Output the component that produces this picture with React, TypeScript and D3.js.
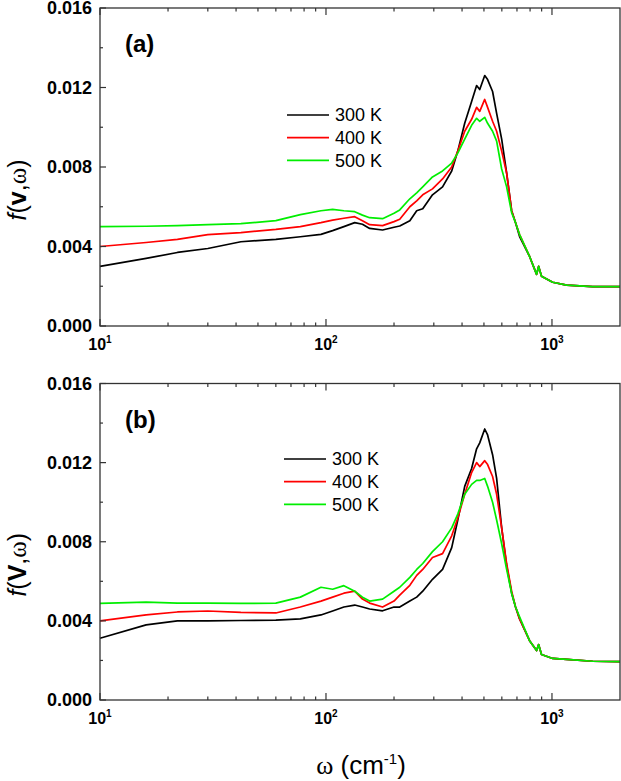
import * as d3 from 'd3';
import React from 'react';

// Frequency grid (cm^-1) shared by every curve.
const omega = [
    10, 16, 22, 30, 42, 60, 77, 95, 107, 120, 134, 145, 156, 178, 200, 212, 235, 252, 268, 296, 328, 360, 383,
    411, 441, 464, 479, 504, 519, 546, 569, 599, 630, 663, 690, 719, 796, 855, 873, 899, 1007, 1161, 1514, 2000,
];

// Panel (a): f(v, omega)
const a300 = [
    0.003, 0.0034, 0.0037, 0.0039, 0.00424, 0.00436, 0.00449, 0.00461, 0.0048, 0.005, 0.0052, 0.00512, 0.00491,
    0.00483, 0.00497, 0.00503, 0.0053, 0.0058, 0.0059, 0.0066, 0.007, 0.0078, 0.0088, 0.0102, 0.0113, 0.0121,
    0.0119, 0.0126, 0.0124, 0.0118, 0.0107, 0.0094, 0.0077, 0.0058, 0.0052, 0.0045, 0.0035, 0.0026, 0.003, 0.0025,
    0.0022, 0.00206, 0.00198, 0.00198,
];
const a400 = [
    0.004, 0.0042, 0.00436, 0.0046, 0.0047, 0.00486, 0.005, 0.0052, 0.00533, 0.00542, 0.0055, 0.0053, 0.0051,
    0.00505, 0.00525, 0.00537, 0.006, 0.0063, 0.0066, 0.0069, 0.0074, 0.008, 0.0088, 0.0098, 0.0104, 0.011, 0.0108,
    0.0114, 0.011, 0.0103, 0.0098, 0.0088, 0.0077, 0.0058, 0.0052, 0.0046, 0.0035, 0.0026, 0.003, 0.0025, 0.0022,
    0.00206, 0.00198, 0.00198,
];
const a500 = [
    0.005, 0.00502, 0.00505, 0.0051, 0.00515, 0.0053, 0.0056, 0.0058, 0.00587, 0.0058, 0.00575, 0.00558, 0.00545,
    0.0054, 0.00567, 0.00584, 0.0064, 0.0067, 0.007, 0.0075, 0.0078, 0.0082, 0.0087, 0.0094, 0.0101, 0.01045,
    0.0103, 0.0105, 0.0102, 0.0098, 0.0093, 0.0079, 0.007, 0.0057, 0.0052, 0.0046, 0.0035, 0.0026, 0.003, 0.0025,
    0.0022, 0.00206, 0.00198, 0.00198,
];

// Panel (b): f(V, omega)
const b300 = [
    0.00312, 0.0038, 0.004, 0.004, 0.00402, 0.00404, 0.0041, 0.0043, 0.0045, 0.0047, 0.0048, 0.0047, 0.0046,
    0.00451, 0.0047, 0.0047, 0.005, 0.0052, 0.0055, 0.0061, 0.0066, 0.0077, 0.0091, 0.0108, 0.0117, 0.0127, 0.013,
    0.0137, 0.0134, 0.0124, 0.0112, 0.0087, 0.0068, 0.0054, 0.0047, 0.0041, 0.003, 0.0025, 0.0028, 0.0023, 0.0021,
    0.00205, 0.00196, 0.00194,
];
const b400 = [
    0.004, 0.0043, 0.00445, 0.0045, 0.00443, 0.0044, 0.0047, 0.005, 0.0052, 0.0054, 0.0055, 0.0051, 0.0049, 0.0047,
    0.005, 0.0053, 0.0058, 0.0063, 0.0066, 0.0072, 0.0074, 0.0083, 0.0092, 0.0104, 0.0115, 0.012, 0.0118, 0.0121,
    0.0119, 0.0113, 0.0104, 0.0087, 0.0069, 0.0055, 0.0047, 0.0041, 0.003, 0.0025, 0.0028, 0.0023, 0.0021, 0.00205,
    0.00196, 0.00194,
];
const b500 = [
    0.00488, 0.00495, 0.0049, 0.0049, 0.00488, 0.0049, 0.0052, 0.0057, 0.0056, 0.00578, 0.0055, 0.0052, 0.005,
    0.0051, 0.0055, 0.0057, 0.0062, 0.0066, 0.0069, 0.0075, 0.008, 0.0087, 0.0094, 0.0104, 0.0109, 0.0111, 0.0111,
    0.0112, 0.0108, 0.01, 0.0091, 0.0079, 0.0066, 0.0054, 0.0047, 0.0042, 0.003, 0.0025, 0.0028, 0.0023, 0.0021,
    0.00205, 0.00196, 0.00194,
];

const temps = ['300 K', '400 K', '500 K'];
const colors = ['#000000', '#ff0000', '#00ee00'];
const yTicks = [0, 0.002, 0.004, 0.006, 0.008, 0.01, 0.012, 0.014, 0.016];

const width = 621;
const height = 781;
const left = 100;
const right = 620;
const font = '"Liberation Sans", Arial, sans-serif';

interface PanelProps {
    top: number;
    bottom: number;
    series: number[][];
    tag: string;
    vec: string;
    legendX: number;
    legendY: number;
}

const Panel = ({ top, bottom, series, tag, vec, legendX, legendY }: PanelProps): React.ReactElement => {
    const x = d3.scaleLog().domain([10, 2000]).range([left, right]);
    const y = d3.scaleLinear().domain([0, 0.016]).range([bottom, top]);
    const line = d3
        .line<number>()
        .x((_, i) => x(omega[i]))
        .y((d) => y(d));
    const xTicks = x.ticks().filter((t) => t >= 10 && t < 2000);
    const isMajor = (t: number) => Math.abs(Math.log10(t) - Math.round(Math.log10(t))) < 1e-9;

    return (
        <g>
            {series.map((s, i) => (
                <path key={i} d={line(s) || ''} fill="none" stroke={colors[i]} strokeWidth={1.7} strokeLinejoin="round" />
            ))}
            <rect x={left} y={top} width={right - left} height={bottom - top} fill="none" stroke="#333" strokeWidth={1.3} />
            {xTicks.map((t) => {
                const len = isMajor(t) ? 7 : 3.5;
                return (
                    <g key={t}>
                        <line x1={x(t)} x2={x(t)} y1={bottom} y2={bottom - len} stroke="#333" strokeWidth={1.2} />
                        <line x1={x(t)} x2={x(t)} y1={top} y2={top + len} stroke="#333" strokeWidth={1.2} />
                    </g>
                );
            })}
            {xTicks.filter(isMajor).map((t) => (
                <text key={t} x={x(t)} y={bottom + 24} textAnchor="middle" fontFamily={font} fontWeight="bold" fontSize={16}>
                    <tspan>10</tspan>
                    <tspan dy={-7} fontSize={10}>
                        {Math.round(Math.log10(t))}
                    </tspan>
                </text>
            ))}
            {yTicks.map((t, i) => (
                <line key={t} x1={left} x2={left + (i % 2 === 0 ? 6 : 3)} y1={y(t)} y2={y(t)} stroke="#333" strokeWidth={1.2} />
            ))}
            {yTicks
                .filter((_, i) => i % 2 === 0)
                .map((t) => (
                    <text key={t} x={92} y={y(t)} dy="0.36em" textAnchor="end" fontFamily={font} fontWeight="bold" fontSize={18}>
                        {t.toFixed(3)}
                    </text>
                ))}
            <text x={left + 25} y={top + 44} fontFamily={font} fontWeight="bold" fontSize={24}>
                {tag}
            </text>
            <text
                transform={`translate(26, ${(top + bottom) / 2 + 23}) rotate(-90)`}
                textAnchor="middle"
                fontFamily={font}
                fontSize={25}
            >
                <tspan fontStyle="italic">f</tspan>
                <tspan>(</tspan>
                <tspan fontWeight="bold">{vec}</tspan>
                <tspan>,</tspan>
                <tspan fontFamily='"Liberation Serif", serif'>ω</tspan>
                <tspan>)</tspan>
            </text>
            {temps.map((label, i) => (
                <g key={label}>
                    <line
                        x1={legendX}
                        x2={legendX + 42}
                        y1={legendY + i * 22.7}
                        y2={legendY + i * 22.7}
                        stroke={colors[i]}
                        strokeWidth={1.7}
                    />
                    <text x={legendX + 48} y={legendY + i * 22.7} dy="0.36em" fontFamily={font} fontSize={18}>
                        {label}
                    </text>
                </g>
            ))}
        </g>
    );
};

const App = (): React.ReactElement => {
    return (
        <svg
            width={width}
            height={height}
            style={{ position: 'absolute', left: 0, top: 0, background: '#fff' }}
        >
            <Panel top={8} bottom={326} series={[a300, a400, a500]} tag="(a)" vec="v" legendX={287} legendY={115} />
            <Panel top={383.5} bottom={700} series={[b300, b400, b500]} tag="(b)" vec="V" legendX={284} legendY={459} />
            <text x={361} y={774} textAnchor="middle" fontFamily={font} fontSize={26}>
                <tspan fontFamily='"Liberation Serif", serif'>ω</tspan>
                <tspan> (cm</tspan>
                <tspan dy={-10} fontSize={15}>
                    -1
                </tspan>
                <tspan dy={10}>)</tspan>
            </text>
        </svg>
    );
};

export default App;
